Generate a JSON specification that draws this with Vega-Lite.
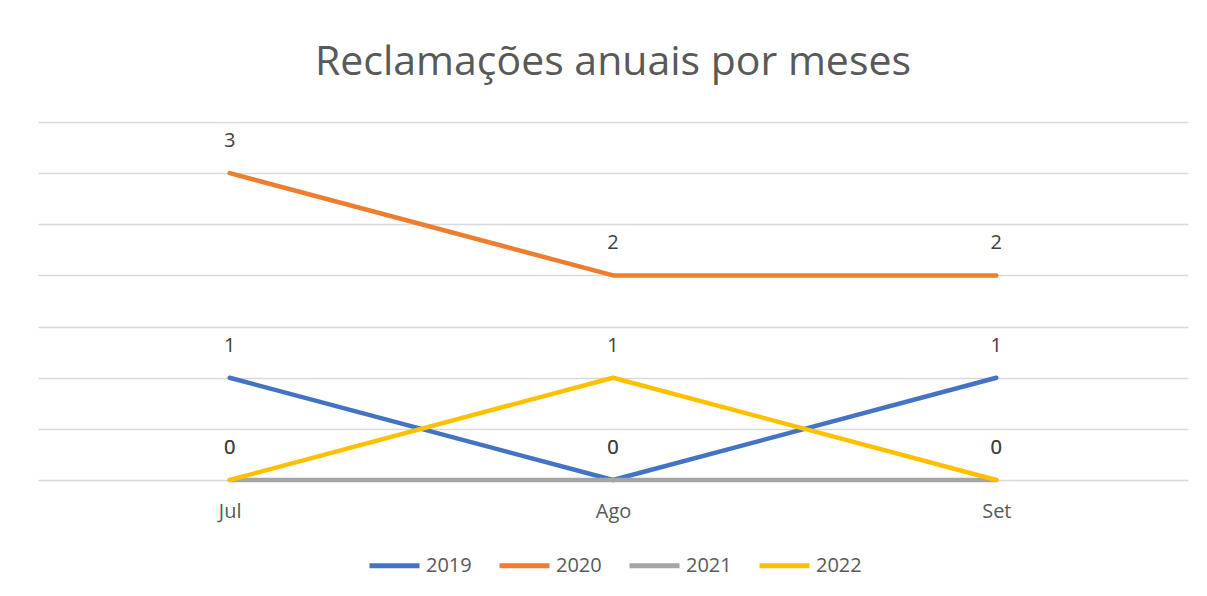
{
  "$schema": "https://vega.github.io/schema/vega-lite/v6.json",
  "autosize": {"type": "none"},
  "width": 1150,
  "height": 358,
  "padding": {"left": 38, "top": 122, "right": 19, "bottom": 116},
  "background": "white",
  "title": {
    "text": "Reclamações anuais por meses",
    "fontSize": 41,
    "font": "Open Sans",
    "fontWeight": "normal",
    "color": "#595959",
    "anchor": "middle",
    "frame": "group",
    "offset": 38
  },
  "data": {
    "values": [
      {"mes": "Jul", "ano": "2019", "valor": 1},
      {"mes": "Ago", "ano": "2019", "valor": 0},
      {"mes": "Set", "ano": "2019", "valor": 1},
      {"mes": "Jul", "ano": "2020", "valor": 3},
      {"mes": "Ago", "ano": "2020", "valor": 2},
      {"mes": "Set", "ano": "2020", "valor": 2},
      {"mes": "Jul", "ano": "2021", "valor": 0},
      {"mes": "Ago", "ano": "2021", "valor": 0},
      {"mes": "Set", "ano": "2021", "valor": 0},
      {"mes": "Jul", "ano": "2022", "valor": 0},
      {"mes": "Ago", "ano": "2022", "valor": 1},
      {"mes": "Set", "ano": "2022", "valor": 0}
    ]
  },
  "encoding": {
    "x": {
      "field": "mes",
      "type": "nominal",
      "sort": ["Jul", "Ago", "Set"],
      "scale": {"type": "point", "padding": 0.5},
      "axis": {
        "title": null,
        "domain": false,
        "ticks": false,
        "grid": false,
        "labelAngle": 0,
        "labelFontSize": 20,
        "labelFont": "Open Sans",
        "labelColor": "#595959",
        "labelPadding": 21
      }
    },
    "y": {
      "field": "valor",
      "type": "quantitative",
      "scale": {"domain": [0, 3.5], "nice": false},
      "axis": {
        "title": null,
        "labels": false,
        "ticks": false,
        "domain": false,
        "values": [0, 0.5, 1, 1.5, 2, 2.5, 3, 3.5],
        "grid": true,
        "gridColor": "#d9d9d9",
        "gridWidth": 1.3
      }
    }
  },
  "layer": [
    {
      "mark": {"type": "line", "strokeWidth": 4.5, "strokeCap": "round", "strokeJoin": "round"},
      "encoding": {
        "color": {
          "field": "ano",
          "type": "nominal",
          "scale": {"domain": ["2019", "2020", "2021", "2022"], "range": ["#4472C4", "#ED7D31", "#A5A5A5", "#FFC000"]},
          "legend": {
            "title": null,
            "orient": "none",
            "direction": "horizontal",
            "legendX": 329,
            "legendY": 416,
            "padding": 0,
            "symbolType": "stroke",
            "symbolSize": 2500,
            "symbolStrokeWidth": 5,
            "labelFontSize": 20,
            "labelFont": "Open Sans",
            "labelColor": "#595959",
            "labelOffset": 4,
            "columnPadding": 17
          }
        }
      }
    },
    {
      "mark": {"type": "text", "dy": -32, "fontSize": 20, "font": "Open Sans", "color": "#404040"},
      "encoding": {
        "text": {"field": "valor", "type": "quantitative"}
      }
    }
  ],
  "config": {"view": {"stroke": null}}
}
